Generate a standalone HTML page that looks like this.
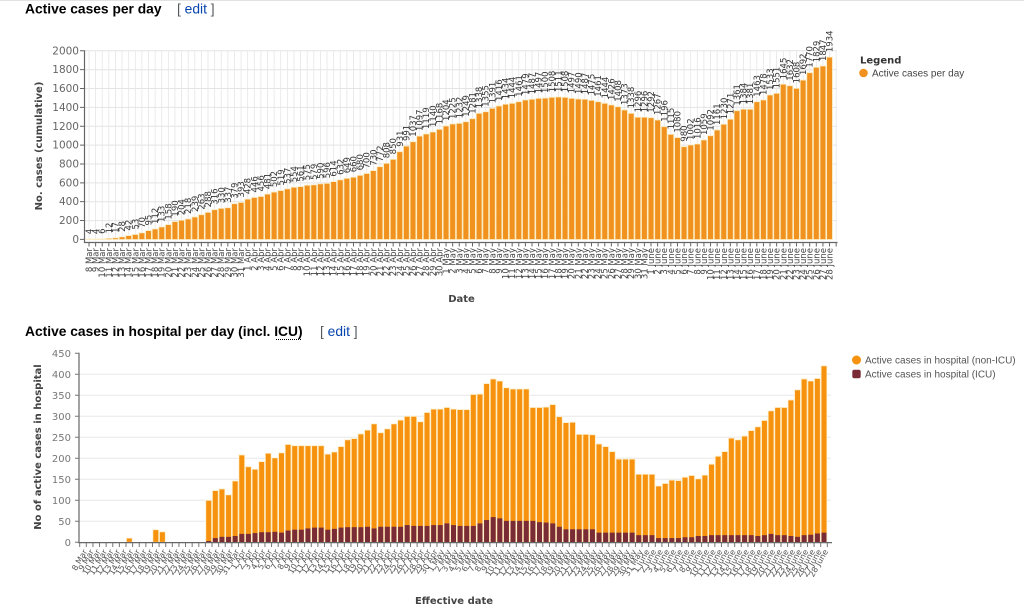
<!DOCTYPE html>
<html><head><meta charset="utf-8">
<style>
html,body{margin:0;padding:0;background:#fff;width:1024px;height:613px;overflow:hidden}
svg{display:block;font-family:"DejaVu Sans","Liberation Sans",sans-serif}
.b rect{vector-effect:non-scaling-stroke}
.t{font-family:"Liberation Sans",Arial,sans-serif}
</style></head><body>
<svg width="1024" height="613" viewBox="0 0 1024 613" xmlns="http://www.w3.org/2000/svg">
<line x1="0" y1="0.5" x2="1024" y2="0.5" stroke="#e2e2e2"/>
<!-- Titles -->
<text class="t" x="25" y="13.5" font-size="13.8" font-weight="bold" fill="#000">Active cases per day</text>
<text class="t" x="177" y="13.5" font-size="13.8"><tspan fill="#54595d">[ </tspan><tspan fill="#0645ad">edit</tspan><tspan fill="#54595d"> ]</tspan></text>
<text class="t" x="25" y="336" font-size="13.8" font-weight="bold" fill="#000">Active cases in hospital per day (incl. ICU)</text>
<line x1="276" y1="339.5" x2="302" y2="339.5" stroke="#000" stroke-dasharray="1 1"/>
<text class="t" x="320" y="336" font-size="13.8"><tspan fill="#54595d">[ </tspan><tspan fill="#0645ad">edit</tspan><tspan fill="#54595d"> ]</tspan></text>

<!-- ===== TOP CHART ===== -->
<g stroke="#e4e4e4" stroke-width="1">
<line x1="84" y1="220.6" x2="837" y2="220.6"/><line x1="84" y1="201.7" x2="837" y2="201.7"/><line x1="84" y1="182.9" x2="837" y2="182.9"/><line x1="84" y1="164" x2="837" y2="164"/><line x1="84" y1="145.1" x2="837" y2="145.1"/><line x1="84" y1="126.3" x2="837" y2="126.3"/><line x1="84" y1="107.4" x2="837" y2="107.4"/><line x1="84" y1="88.5" x2="837" y2="88.5"/><line x1="84" y1="69.7" x2="837" y2="69.7"/><line x1="84" y1="50.8" x2="837" y2="50.8"/>
</g>
<line x1="88.6" y1="145.65" x2="837" y2="145.65" stroke="#e6e6e6" stroke-width="189.7" stroke-dasharray="0.8 5.812"/>

<g class="b" transform="translate(89,239.5) scale(6.612,-0.0943) translate(-.439,0)" fill="#f0921d" stroke="#fbebc0" stroke-width=".8">
<rect x="0" width=".877" height="4"/><rect x="1" width=".877" height="4"/><rect x="2" width=".877" height="6"/><rect x="3" width=".877" height="12"/><rect x="4" width=".877" height="17"/><rect x="5" width=".877" height="28"/><rect x="6" width=".877" height="42"/><rect x="7" width=".877" height="53"/><rect x="8" width=".877" height="70"/><rect x="9" width=".877" height="95"/>
<rect x="10" width=".877" height="112"/><rect x="11" width=".877" height="133"/><rect x="12" width=".877" height="158"/><rect x="13" width=".877" height="190"/><rect x="14" width=".877" height="204"/><rect x="15" width=".877" height="218"/><rect x="16" width=".877" height="239"/><rect x="17" width=".877" height="263"/><rect x="18" width=".877" height="288"/><rect x="19" width=".877" height="316"/>
<rect x="20" width=".877" height="330"/><rect x="21" width=".877" height="337"/><rect x="22" width=".877" height="379"/><rect x="23" width=".877" height="393"/><rect x="24" width=".877" height="428"/><rect x="25" width=".877" height="446"/><rect x="26" width=".877" height="456"/><rect x="27" width=".877" height="481"/><rect x="28" width=".877" height="502"/><rect x="29" width=".877" height="519"/>
<rect x="30" width=".877" height="537"/><rect x="31" width=".877" height="554"/><rect x="32" width=".877" height="561"/><rect x="33" width=".877" height="575"/><rect x="34" width=".877" height="579"/><rect x="35" width=".877" height="590"/><rect x="36" width=".877" height="596"/><rect x="37" width=".877" height="614"/><rect x="38" width=".877" height="632"/><rect x="39" width=".877" height="649"/>
<rect x="40" width=".877" height="660"/><rect x="41" width=".877" height="680"/><rect x="42" width=".877" height="700"/><rect x="43" width=".877" height="730"/><rect x="44" width=".877" height="772"/><rect x="45" width=".877" height="808"/><rect x="46" width=".877" height="850"/><rect x="47" width=".877" height="931"/><rect x="48" width=".877" height="991"/><rect x="49" width=".877" height="1037"/>
<rect x="50" width=".877" height="1097"/><rect x="51" width=".877" height="1119"/><rect x="52" width=".877" height="1140"/><rect x="53" width=".877" height="1168"/><rect x="54" width=".877" height="1204"/><rect x="55" width=".877" height="1225"/><rect x="56" width=".877" height="1232"/><rect x="57" width=".877" height="1249"/><rect x="58" width=".877" height="1281"/><rect x="59" width=".877" height="1338"/>
<rect x="60" width=".877" height="1355"/><rect x="61" width=".877" height="1391"/><rect x="62" width=".877" height="1416"/><rect x="63" width=".877" height="1434"/><rect x="64" width=".877" height="1444"/><rect x="65" width=".877" height="1461"/><rect x="66" width=".877" height="1479"/><rect x="67" width=".877" height="1487"/><rect x="68" width=".877" height="1497"/><rect x="69" width=".877" height="1500"/>
<rect x="70" width=".877" height="1508"/><rect x="71" width=".877" height="1511"/><rect x="72" width=".877" height="1508"/><rect x="73" width=".877" height="1497"/><rect x="74" width=".877" height="1490"/><rect x="75" width=".877" height="1487"/><rect x="76" width=".877" height="1475"/><rect x="77" width=".877" height="1461"/><rect x="78" width=".877" height="1444"/><rect x="79" width=".877" height="1426"/>
<rect x="80" width=".877" height="1408"/><rect x="81" width=".877" height="1373"/><rect x="82" width=".877" height="1338"/><rect x="83" width=".877" height="1296"/><rect x="84" width=".877" height="1296"/><rect x="85" width=".877" height="1292"/><rect x="86" width=".877" height="1267"/><rect x="87" width=".877" height="1196"/><rect x="88" width=".877" height="1115"/><rect x="89" width=".877" height="1080"/>
<rect x="90" width=".877" height="984"/><rect x="91" width=".877" height="1002"/><rect x="92" width=".877" height="1013"/><rect x="93" width=".877" height="1055"/><rect x="94" width=".877" height="1101"/><rect x="95" width=".877" height="1161"/><rect x="96" width=".877" height="1222"/><rect x="97" width=".877" height="1275"/><rect x="98" width=".877" height="1366"/><rect x="99" width=".877" height="1381"/>
<rect x="100" width=".877" height="1381"/><rect x="101" width=".877" height="1461"/><rect x="102" width=".877" height="1479"/><rect x="103" width=".877" height="1532"/><rect x="104" width=".877" height="1550"/><rect x="105" width=".877" height="1646"/><rect x="106" width=".877" height="1631"/><rect x="107" width=".877" height="1603"/><rect x="108" width=".877" height="1691"/><rect x="109" width=".877" height="1769"/>
<rect x="110" width=".877" height="1826"/><rect x="111" width=".877" height="1840"/><rect x="112" width=".877" height="1934"/>
</g>

<!-- value labels -->
<g transform="translate(89,239.5) scale(6.612,-0.0943)" font-size="8.5" fill="#333">
<text transform="translate(0,4)scale(.15124,-10.6045)rotate(-90)" x="5" y="3">4</text>
<text transform="translate(1,4)scale(.15124,-10.6045)rotate(-90)" x="5" y="3">4</text>
<text transform="translate(2,6)scale(.15124,-10.6045)rotate(-90)" x="5" y="3">6</text>
<text transform="translate(3,12)scale(.15124,-10.6045)rotate(-90)" x="5" y="3">12</text>
<text transform="translate(4,17)scale(.15124,-10.6045)rotate(-90)" x="5" y="3">17</text>
<text transform="translate(5,28)scale(.15124,-10.6045)rotate(-90)" x="5" y="3">28</text>
<text transform="translate(6,42)scale(.15124,-10.6045)rotate(-90)" x="5" y="3">42</text>
<text transform="translate(7,53)scale(.15124,-10.6045)rotate(-90)" x="5" y="3">53</text>
<text transform="translate(8,70)scale(.15124,-10.6045)rotate(-90)" x="5" y="3">70</text>
<text transform="translate(9,95)scale(.15124,-10.6045)rotate(-90)" x="5" y="3">95</text>
<text transform="translate(10,112)scale(.15124,-10.6045)rotate(-90)" x="5" y="3">112</text>
<text transform="translate(11,133)scale(.15124,-10.6045)rotate(-90)" x="5" y="3">133</text>
<text transform="translate(12,158)scale(.15124,-10.6045)rotate(-90)" x="5" y="3">158</text>
<text transform="translate(13,190)scale(.15124,-10.6045)rotate(-90)" x="5" y="3">190</text>
<text transform="translate(14,204)scale(.15124,-10.6045)rotate(-90)" x="5" y="3">204</text>
<text transform="translate(15,218)scale(.15124,-10.6045)rotate(-90)" x="5" y="3">218</text>
<text transform="translate(16,239)scale(.15124,-10.6045)rotate(-90)" x="5" y="3">239</text>
<text transform="translate(17,263)scale(.15124,-10.6045)rotate(-90)" x="5" y="3">263</text>
<text transform="translate(18,288)scale(.15124,-10.6045)rotate(-90)" x="5" y="3">288</text>
<text transform="translate(19,316)scale(.15124,-10.6045)rotate(-90)" x="5" y="3">316</text>
<text transform="translate(20,330)scale(.15124,-10.6045)rotate(-90)" x="5" y="3">330</text>
<text transform="translate(21,337)scale(.15124,-10.6045)rotate(-90)" x="5" y="3">337</text>
<text transform="translate(22,379)scale(.15124,-10.6045)rotate(-90)" x="5" y="3">379</text>
<text transform="translate(23,393)scale(.15124,-10.6045)rotate(-90)" x="5" y="3">393</text>
<text transform="translate(24,428)scale(.15124,-10.6045)rotate(-90)" x="5" y="3">428</text>
<text transform="translate(25,446)scale(.15124,-10.6045)rotate(-90)" x="5" y="3">446</text>
<text transform="translate(26,456)scale(.15124,-10.6045)rotate(-90)" x="5" y="3">456</text>
<text transform="translate(27,481)scale(.15124,-10.6045)rotate(-90)" x="5" y="3">481</text>
<text transform="translate(28,502)scale(.15124,-10.6045)rotate(-90)" x="5" y="3">502</text>
<text transform="translate(29,519)scale(.15124,-10.6045)rotate(-90)" x="5" y="3">519</text>
<text transform="translate(30,537)scale(.15124,-10.6045)rotate(-90)" x="5" y="3">537</text>
<text transform="translate(31,554)scale(.15124,-10.6045)rotate(-90)" x="5" y="3">554</text>
<text transform="translate(32,561)scale(.15124,-10.6045)rotate(-90)" x="5" y="3">561</text>
<text transform="translate(33,575)scale(.15124,-10.6045)rotate(-90)" x="5" y="3">575</text>
<text transform="translate(34,579)scale(.15124,-10.6045)rotate(-90)" x="5" y="3">579</text>
<text transform="translate(35,590)scale(.15124,-10.6045)rotate(-90)" x="5" y="3">590</text>
<text transform="translate(36,596)scale(.15124,-10.6045)rotate(-90)" x="5" y="3">596</text>
<text transform="translate(37,614)scale(.15124,-10.6045)rotate(-90)" x="5" y="3">614</text>
<text transform="translate(38,632)scale(.15124,-10.6045)rotate(-90)" x="5" y="3">632</text>
<text transform="translate(39,649)scale(.15124,-10.6045)rotate(-90)" x="5" y="3">649</text>
<text transform="translate(40,660)scale(.15124,-10.6045)rotate(-90)" x="5" y="3">660</text>
<text transform="translate(41,680)scale(.15124,-10.6045)rotate(-90)" x="5" y="3">680</text>
<text transform="translate(42,700)scale(.15124,-10.6045)rotate(-90)" x="5" y="3">700</text>
<text transform="translate(43,730)scale(.15124,-10.6045)rotate(-90)" x="5" y="3">730</text>
<text transform="translate(44,772)scale(.15124,-10.6045)rotate(-90)" x="5" y="3">772</text>
<text transform="translate(45,808)scale(.15124,-10.6045)rotate(-90)" x="5" y="3">808</text>
<text transform="translate(46,850)scale(.15124,-10.6045)rotate(-90)" x="5" y="3">850</text>
<text transform="translate(47,931)scale(.15124,-10.6045)rotate(-90)" x="5" y="3">931</text>
<text transform="translate(48,991)scale(.15124,-10.6045)rotate(-90)" x="5" y="3">991</text>
<text transform="translate(49,1037)scale(.15124,-10.6045)rotate(-90)" x="5" y="3">1037</text>
<text transform="translate(50,1097)scale(.15124,-10.6045)rotate(-90)" x="5" y="3">1097</text>
<text transform="translate(51,1119)scale(.15124,-10.6045)rotate(-90)" x="5" y="3">1119</text>
<text transform="translate(52,1140)scale(.15124,-10.6045)rotate(-90)" x="5" y="3">1140</text>
<text transform="translate(53,1168)scale(.15124,-10.6045)rotate(-90)" x="5" y="3">1168</text>
<text transform="translate(54,1204)scale(.15124,-10.6045)rotate(-90)" x="5" y="3">1204</text>
<text transform="translate(55,1225)scale(.15124,-10.6045)rotate(-90)" x="5" y="3">1225</text>
<text transform="translate(56,1232)scale(.15124,-10.6045)rotate(-90)" x="5" y="3">1232</text>
<text transform="translate(57,1249)scale(.15124,-10.6045)rotate(-90)" x="5" y="3">1249</text>
<text transform="translate(58,1281)scale(.15124,-10.6045)rotate(-90)" x="5" y="3">1281</text>
<text transform="translate(59,1338)scale(.15124,-10.6045)rotate(-90)" x="5" y="3">1338</text>
<text transform="translate(60,1355)scale(.15124,-10.6045)rotate(-90)" x="5" y="3">1355</text>
<text transform="translate(61,1391)scale(.15124,-10.6045)rotate(-90)" x="5" y="3">1391</text>
<text transform="translate(62,1416)scale(.15124,-10.6045)rotate(-90)" x="5" y="3">1416</text>
<text transform="translate(63,1434)scale(.15124,-10.6045)rotate(-90)" x="5" y="3">1434</text>
<text transform="translate(64,1444)scale(.15124,-10.6045)rotate(-90)" x="5" y="3">1444</text>
<text transform="translate(65,1461)scale(.15124,-10.6045)rotate(-90)" x="5" y="3">1461</text>
<text transform="translate(66,1479)scale(.15124,-10.6045)rotate(-90)" x="5" y="3">1479</text>
<text transform="translate(67,1487)scale(.15124,-10.6045)rotate(-90)" x="5" y="3">1487</text>
<text transform="translate(68,1497)scale(.15124,-10.6045)rotate(-90)" x="5" y="3">1497</text>
<text transform="translate(69,1500)scale(.15124,-10.6045)rotate(-90)" x="5" y="3">1500</text>
<text transform="translate(70,1508)scale(.15124,-10.6045)rotate(-90)" x="5" y="3">1508</text>
<text transform="translate(71,1511)scale(.15124,-10.6045)rotate(-90)" x="5" y="3">1511</text>
<text transform="translate(72,1508)scale(.15124,-10.6045)rotate(-90)" x="5" y="3">1508</text>
<text transform="translate(73,1497)scale(.15124,-10.6045)rotate(-90)" x="5" y="3">1497</text>
<text transform="translate(74,1490)scale(.15124,-10.6045)rotate(-90)" x="5" y="3">1490</text>
<text transform="translate(75,1487)scale(.15124,-10.6045)rotate(-90)" x="5" y="3">1487</text>
<text transform="translate(76,1475)scale(.15124,-10.6045)rotate(-90)" x="5" y="3">1475</text>
<text transform="translate(77,1461)scale(.15124,-10.6045)rotate(-90)" x="5" y="3">1461</text>
<text transform="translate(78,1444)scale(.15124,-10.6045)rotate(-90)" x="5" y="3">1444</text>
<text transform="translate(79,1426)scale(.15124,-10.6045)rotate(-90)" x="5" y="3">1426</text>
<text transform="translate(80,1408)scale(.15124,-10.6045)rotate(-90)" x="5" y="3">1408</text>
<text transform="translate(81,1373)scale(.15124,-10.6045)rotate(-90)" x="5" y="3">1373</text>
<text transform="translate(82,1338)scale(.15124,-10.6045)rotate(-90)" x="5" y="3">1338</text>
<text transform="translate(83,1296)scale(.15124,-10.6045)rotate(-90)" x="5" y="3">1296</text>
<text transform="translate(84,1296)scale(.15124,-10.6045)rotate(-90)" x="5" y="3">1296</text>
<text transform="translate(85,1292)scale(.15124,-10.6045)rotate(-90)" x="5" y="3">1292</text>
<text transform="translate(86,1267)scale(.15124,-10.6045)rotate(-90)" x="5" y="3">1267</text>
<text transform="translate(87,1196)scale(.15124,-10.6045)rotate(-90)" x="5" y="3">1196</text>
<text transform="translate(88,1115)scale(.15124,-10.6045)rotate(-90)" x="5" y="3">1115</text>
<text transform="translate(89,1080)scale(.15124,-10.6045)rotate(-90)" x="5" y="3">1080</text>
<text transform="translate(90,984)scale(.15124,-10.6045)rotate(-90)" x="5" y="3">980</text>
<text transform="translate(91,1002)scale(.15124,-10.6045)rotate(-90)" x="5" y="3">1002</text>
<text transform="translate(92,1013)scale(.15124,-10.6045)rotate(-90)" x="5" y="3">1016</text>
<text transform="translate(93,1055)scale(.15124,-10.6045)rotate(-90)" x="5" y="3">1059</text>
<text transform="translate(94,1101)scale(.15124,-10.6045)rotate(-90)" x="5" y="3">1092</text>
<text transform="translate(95,1161)scale(.15124,-10.6045)rotate(-90)" x="5" y="3">1161</text>
<text transform="translate(96,1222)scale(.15124,-10.6045)rotate(-90)" x="5" y="3">1230</text>
<text transform="translate(97,1275)scale(.15124,-10.6045)rotate(-90)" x="5" y="3">1271</text>
<text transform="translate(98,1366)scale(.15124,-10.6045)rotate(-90)" x="5" y="3">1361</text>
<text transform="translate(99,1381)scale(.15124,-10.6045)rotate(-90)" x="5" y="3">1384</text>
<text transform="translate(100,1381)scale(.15124,-10.6045)rotate(-90)" x="5" y="3">1381</text>
<text transform="translate(101,1461)scale(.15124,-10.6045)rotate(-90)" x="5" y="3">1463</text>
<text transform="translate(102,1479)scale(.15124,-10.6045)rotate(-90)" x="5" y="3">1478</text>
<text transform="translate(103,1532)scale(.15124,-10.6045)rotate(-90)" x="5" y="3">1533</text>
<text transform="translate(104,1550)scale(.15124,-10.6045)rotate(-90)" x="5" y="3">1551</text>
<text transform="translate(105,1646)scale(.15124,-10.6045)rotate(-90)" x="5" y="3">1645</text>
<text transform="translate(106,1631)scale(.15124,-10.6045)rotate(-90)" x="5" y="3">1632</text>
<text transform="translate(107,1603)scale(.15124,-10.6045)rotate(-90)" x="5" y="3">1608</text>
<text transform="translate(108,1691)scale(.15124,-10.6045)rotate(-90)" x="5" y="3">1692</text>
<text transform="translate(109,1769)scale(.15124,-10.6045)rotate(-90)" x="5" y="3">1770</text>
<text transform="translate(110,1826)scale(.15124,-10.6045)rotate(-90)" x="5" y="3">1829</text>
<text transform="translate(111,1840)scale(.15124,-10.6045)rotate(-90)" x="5" y="3">1847</text>
<text transform="translate(112,1934)scale(.15124,-10.6045)rotate(-90)" x="5" y="3">1934</text>
</g>

<!-- top axes -->
<line x1="84.5" y1="50.3" x2="84.5" y2="243" stroke="#666" stroke-width="1.2"/>
<line x1="84" y1="242.5" x2="837.5" y2="242.5" stroke="#666" stroke-width="1.2"/>
<line x1="88.5" y1="244.5" x2="837.5" y2="244.5" stroke="#666" stroke-width="4" stroke-dasharray="1 5.612"/>
<line x1="82" y1="50.3" x2="82" y2="241" stroke="#666" stroke-width="4" stroke-dasharray="1 17.86"/>
<g font-size="10.5" fill="#666" text-anchor="end">
<text x="79" y="243">0</text><text x="79" y="224.1">200</text><text x="79" y="205.2">400</text><text x="79" y="186.4">600</text><text x="79" y="167.5">800</text><text x="79" y="148.6">1000</text><text x="79" y="129.8">1200</text><text x="79" y="110.9">1400</text><text x="79" y="92">1600</text><text x="79" y="73.2">1800</text><text x="79" y="54.3">2000</text>
</g>
<text transform="translate(42,146) rotate(-90)" text-anchor="middle" font-size="10" font-weight="bold" fill="#444">No. cases (cumulative)</text>
<text x="461.5" y="302" text-anchor="middle" font-size="10" font-weight="bold" fill="#444">Date</text>

<!-- top x labels -->
<g transform="translate(0,248) rotate(-90)" text-anchor="end" font-size="8.5" fill="#444">
<text y="92">8 Mar</text><text y="98.6">9 Mar</text><text y="105.2">10 Mar</text><text y="111.8">11 Mar</text><text y="118.4">12 Mar</text><text y="125.1">13 Mar</text><text y="131.7">14 Mar</text><text y="138.3">15 Mar</text><text y="144.9">16 Mar</text><text y="151.5">17 Mar</text>
<text y="158.1">18 Mar</text><text y="164.7">19 Mar</text><text y="171.3">20 Mar</text><text y="178">21 Mar</text><text y="184.6">22 Mar</text><text y="191.2">23 Mar</text><text y="197.8">24 Mar</text><text y="204.4">25 Mar</text><text y="211">26 Mar</text><text y="217.6">27 Mar</text>
<text y="224.2">28 Mar</text><text y="230.9">29 Mar</text><text y="237.5">30 Mar</text><text y="244.1">31 Mar</text><text y="250.7">1 Apr</text><text y="257.3">2 Apr</text><text y="263.9">3 Apr</text><text y="270.5">4 Apr</text><text y="277.1">5 Apr</text><text y="283.7">6 Apr</text>
<text y="290.4">7 Apr</text><text y="297">8 Apr</text><text y="303.6">9 Apr</text><text y="310.2">10 Apr</text><text y="316.8">11 Apr</text><text y="323.4">12 Apr</text><text y="330">13 Apr</text><text y="336.6">14 Apr</text><text y="343.3">15 Apr</text><text y="349.9">16 Apr</text>
<text y="356.5">17 Apr</text><text y="363.1">18 Apr</text><text y="369.7">19 Apr</text><text y="376.3">20 Apr</text><text y="382.9">21 Apr</text><text y="389.5">22 Apr</text><text y="396.2">23 Apr</text><text y="402.8">24 Apr</text><text y="409.4">25 Apr</text><text y="416">26 Apr</text>
<text y="422.6">27 Apr</text><text y="429.2">28 Apr</text><text y="435.8">29 Apr</text><text y="442.4">30 Apr</text><text y="449">1 May</text><text y="455.7">2 May</text><text y="462.3">3 May</text><text y="468.9">4 May</text><text y="475.5">5 May</text><text y="482.1">6 May</text>
<text y="488.7">7 May</text><text y="495.3">8 May</text><text y="501.9">9 May</text><text y="508.6">10 May</text><text y="515.2">11 May</text><text y="521.8">12 May</text><text y="528.4">13 May</text><text y="535">14 May</text><text y="541.6">15 May</text><text y="548.2">16 May</text>
<text y="554.8">17 May</text><text y="561.5">18 May</text><text y="568.1">19 May</text><text y="574.7">20 May</text><text y="581.3">21 May</text><text y="587.9">22 May</text><text y="594.5">23 May</text><text y="601.1">24 May</text><text y="607.7">25 May</text><text y="614.3">26 May</text>
<text y="621">27 May</text><text y="627.6">28 May</text><text y="634.2">29 May</text><text y="640.8">30 May</text><text y="647.4">31 May</text><text y="654">1 June</text><text y="660.6">2 June</text><text y="667.2">3 June</text><text y="673.9">4 June</text><text y="680.5">5 June</text>
<text y="687.1">6 June</text><text y="693.7">7 June</text><text y="700.3">8 June</text><text y="706.9">9 June</text><text y="713.5">10 June</text><text y="720.1">11 June</text><text y="726.8">12 June</text><text y="733.4">13 June</text><text y="740">14 June</text><text y="746.6">15 June</text>
<text y="753.2">16 June</text><text y="759.8">17 June</text><text y="766.4">18 June</text><text y="773">19 June</text><text y="779.6">20 June</text><text y="786.3">21 June</text><text y="792.9">22 June</text><text y="799.5">23 June</text><text y="806.1">24 June</text><text y="812.7">25 June</text>
<text y="819.3">26 June</text><text y="825.9">27 June</text><text y="832.5">28 June</text>
</g>

<!-- top legend -->
<text x="860" y="63.5" font-size="10" font-weight="bold" fill="#333">Legend</text>
<circle cx="863.5" cy="73" r="4.3" fill="#f0921d"/>
<text class="t" x="872" y="76.5" font-size="10" fill="#444">Active cases per day</text>

<!-- ===== BOTTOM CHART ===== -->
<g stroke="#e8e8e8" stroke-width="1">
<line x1="79" y1="521.3" x2="831" y2="521.3"/><line x1="79" y1="500.3" x2="831" y2="500.3"/><line x1="79" y1="479.3" x2="831" y2="479.3"/><line x1="79" y1="458.3" x2="831" y2="458.3"/><line x1="79" y1="437.3" x2="831" y2="437.3"/><line x1="79" y1="416.3" x2="831" y2="416.3"/><line x1="79" y1="395.3" x2="831" y2="395.3"/><line x1="79" y1="374.3" x2="831" y2="374.3"/>
</g>

<g class="b" transform="translate(83,542.3) scale(6.616,-0.42) translate(-.438,0)" fill="#f7920f" stroke="#fdeec8" stroke-width=".8">
<rect x="7" width=".877" height="10"/><rect x="11" width=".877" height="30"/><rect x="12" width=".877" height="25"/>
<rect x="19" width=".877" height="100"/><rect x="20" width=".877" height="123"/><rect x="21" width=".877" height="127"/><rect x="22" width=".877" height="113"/><rect x="23" width=".877" height="146"/><rect x="24" width=".877" height="208"/><rect x="25" width=".877" height="180"/><rect x="26" width=".877" height="174"/><rect x="27" width=".877" height="192"/><rect x="28" width=".877" height="212"/><rect x="29" width=".877" height="201"/>
<rect x="30" width=".877" height="213"/><rect x="31" width=".877" height="233"/><rect x="32" width=".877" height="230"/><rect x="33" width=".877" height="230"/><rect x="34" width=".877" height="230"/><rect x="35" width=".877" height="230"/><rect x="36" width=".877" height="230"/><rect x="37" width=".877" height="210"/><rect x="38" width=".877" height="215"/><rect x="39" width=".877" height="228"/>
<rect x="40" width=".877" height="244"/><rect x="41" width=".877" height="247"/><rect x="42" width=".877" height="258"/><rect x="43" width=".877" height="267"/><rect x="44" width=".877" height="282"/><rect x="45" width=".877" height="261"/><rect x="46" width=".877" height="270"/><rect x="47" width=".877" height="282"/><rect x="48" width=".877" height="291"/><rect x="49" width=".877" height="300"/>
<rect x="50" width=".877" height="300"/><rect x="51" width=".877" height="287"/><rect x="52" width=".877" height="309"/><rect x="53" width=".877" height="317"/><rect x="54" width=".877" height="317"/><rect x="55" width=".877" height="321"/><rect x="56" width=".877" height="317"/><rect x="57" width=".877" height="316"/><rect x="58" width=".877" height="316"/><rect x="59" width=".877" height="352"/>
<rect x="60" width=".877" height="353"/><rect x="61" width=".877" height="378"/><rect x="62" width=".877" height="389"/><rect x="63" width=".877" height="384"/><rect x="64" width=".877" height="368"/><rect x="65" width=".877" height="365"/><rect x="66" width=".877" height="365"/><rect x="67" width=".877" height="365"/><rect x="68" width=".877" height="321"/><rect x="69" width=".877" height="321"/>
<rect x="70" width=".877" height="322"/><rect x="71" width=".877" height="328"/><rect x="72" width=".877" height="299"/><rect x="73" width=".877" height="285"/><rect x="74" width=".877" height="286"/><rect x="75" width=".877" height="257"/><rect x="76" width=".877" height="257"/><rect x="77" width=".877" height="256"/><rect x="78" width=".877" height="234"/><rect x="79" width=".877" height="228"/>
<rect x="80" width=".877" height="216"/><rect x="81" width=".877" height="198"/><rect x="82" width=".877" height="198"/><rect x="83" width=".877" height="198"/><rect x="84" width=".877" height="162"/><rect x="85" width=".877" height="162"/><rect x="86" width=".877" height="162"/><rect x="87" width=".877" height="134"/><rect x="88" width=".877" height="140"/><rect x="89" width=".877" height="148"/>
<rect x="90" width=".877" height="147"/><rect x="91" width=".877" height="155"/><rect x="92" width=".877" height="159"/><rect x="93" width=".877" height="151"/><rect x="94" width=".877" height="160"/><rect x="95" width=".877" height="186"/><rect x="96" width=".877" height="205"/><rect x="97" width=".877" height="216"/><rect x="98" width=".877" height="248"/><rect x="99" width=".877" height="244"/>
<rect x="100" width=".877" height="253"/><rect x="101" width=".877" height="266"/><rect x="102" width=".877" height="275"/><rect x="103" width=".877" height="290"/><rect x="104" width=".877" height="313"/><rect x="105" width=".877" height="321"/><rect x="106" width=".877" height="321"/><rect x="107" width=".877" height="339"/><rect x="108" width=".877" height="363"/><rect x="109" width=".877" height="389"/>
<rect x="110" width=".877" height="384"/><rect x="111" width=".877" height="390"/><rect x="112" width=".877" height="420"/>
</g>
<g transform="translate(83,542.3) scale(6.616,-0.42) translate(-.378,0)" fill="#7a2c36">
<rect x="19" width=".756" height="3"/><rect x="20" width=".756" height="10"/><rect x="21" width=".756" height="13"/><rect x="22" width=".756" height="13"/><rect x="23" width=".756" height="15"/><rect x="24" width=".756" height="20"/><rect x="25" width=".756" height="20"/><rect x="26" width=".756" height="22"/><rect x="27" width=".756" height="24"/><rect x="28" width=".756" height="24"/><rect x="29" width=".756" height="25"/>
<rect x="30" width=".756" height="23"/><rect x="31" width=".756" height="28"/><rect x="32" width=".756" height="30"/><rect x="33" width=".756" height="30"/><rect x="34" width=".756" height="33"/><rect x="35" width=".756" height="35"/><rect x="36" width=".756" height="35"/><rect x="37" width=".756" height="30"/><rect x="38" width=".756" height="32"/><rect x="39" width=".756" height="35"/>
<rect x="40" width=".756" height="36"/><rect x="41" width=".756" height="36"/><rect x="42" width=".756" height="36"/><rect x="43" width=".756" height="37"/><rect x="44" width=".756" height="33"/><rect x="45" width=".756" height="37"/><rect x="46" width=".756" height="37"/><rect x="47" width=".756" height="37"/><rect x="48" width=".756" height="37"/><rect x="49" width=".756" height="41"/>
<rect x="50" width=".756" height="39"/><rect x="51" width=".756" height="39"/><rect x="52" width=".756" height="39"/><rect x="53" width=".756" height="41"/><rect x="54" width=".756" height="41"/><rect x="55" width=".756" height="45"/><rect x="56" width=".756" height="41"/><rect x="57" width=".756" height="39"/><rect x="58" width=".756" height="39"/><rect x="59" width=".756" height="39"/>
<rect x="60" width=".756" height="45"/><rect x="61" width=".756" height="53"/><rect x="62" width=".756" height="60"/><rect x="63" width=".756" height="57"/><rect x="64" width=".756" height="51"/><rect x="65" width=".756" height="51"/><rect x="66" width=".756" height="51"/><rect x="67" width=".756" height="51"/><rect x="68" width=".756" height="51"/><rect x="69" width=".756" height="48"/>
<rect x="70" width=".756" height="47"/><rect x="71" width=".756" height="45"/><rect x="72" width=".756" height="37"/><rect x="73" width=".756" height="31"/><rect x="74" width=".756" height="31"/><rect x="75" width=".756" height="31"/><rect x="76" width=".756" height="31"/><rect x="77" width=".756" height="31"/><rect x="78" width=".756" height="23"/><rect x="79" width=".756" height="23"/>
<rect x="80" width=".756" height="23"/><rect x="81" width=".756" height="23"/><rect x="82" width=".756" height="23"/><rect x="83" width=".756" height="23"/><rect x="84" width=".756" height="17"/><rect x="85" width=".756" height="17"/><rect x="86" width=".756" height="17"/><rect x="87" width=".756" height="10"/><rect x="88" width=".756" height="10"/><rect x="89" width=".756" height="10"/>
<rect x="90" width=".756" height="10"/><rect x="91" width=".756" height="12"/><rect x="92" width=".756" height="12"/><rect x="93" width=".756" height="15"/><rect x="94" width=".756" height="15"/><rect x="95" width=".756" height="17"/><rect x="96" width=".756" height="17"/><rect x="97" width=".756" height="17"/><rect x="98" width=".756" height="17"/><rect x="99" width=".756" height="17"/>
<rect x="100" width=".756" height="17"/><rect x="101" width=".756" height="17"/><rect x="102" width=".756" height="15"/><rect x="103" width=".756" height="17"/><rect x="104" width=".756" height="20"/><rect x="105" width=".756" height="17"/><rect x="106" width=".756" height="17"/><rect x="107" width=".756" height="15"/><rect x="108" width=".756" height="13"/><rect x="109" width=".756" height="17"/>
<rect x="110" width=".756" height="18"/><rect x="111" width=".756" height="21"/><rect x="112" width=".756" height="23"/>
</g>

<!-- bottom axes -->
<line x1="79" y1="352.8" x2="79" y2="543" stroke="#666" stroke-width="1.2"/>
<line x1="78" y1="542.6" x2="832" y2="542.6" stroke="#666" stroke-width="1.2"/>
<line x1="79.2" y1="545" x2="832" y2="545" stroke="#777" stroke-width="4" stroke-dasharray="1 5.616"/>
<line x1="77" y1="352.8" x2="77" y2="543" stroke="#777" stroke-width="4" stroke-dasharray="1 20"/>
<g font-size="10" fill="#777" text-anchor="end">
<text x="71" y="545.8">0</text><text x="71" y="524.8">50</text><text x="71" y="503.8">100</text><text x="71" y="482.8">150</text><text x="71" y="461.8">200</text><text x="71" y="440.8">250</text><text x="71" y="419.8">300</text><text x="71" y="398.8">350</text><text x="71" y="377.8">400</text><text x="71" y="356.8">450</text>
</g>
<text transform="translate(41,447) rotate(-90)" text-anchor="middle" font-size="10" font-weight="bold" fill="#444">No of active cases in hospital</text>
<text x="454" y="604" text-anchor="middle" font-size="10" font-weight="bold" fill="#444">Effective date</text>

<!-- bottom x labels -->
<g text-anchor="end" font-size="8" fill="#555">
<text transform="translate(85,550)rotate(-60)" y="3">8 Mar</text><text transform="translate(91.6,550)rotate(-60)" y="3">9 Mar</text><text transform="translate(98.2,550)rotate(-60)" y="3">10 Mar</text><text transform="translate(104.8,550)rotate(-60)" y="3">11 Mar</text><text transform="translate(111.4,550)rotate(-60)" y="3">12 Mar</text><text transform="translate(118.1,550)rotate(-60)" y="3">13 Mar</text><text transform="translate(124.7,550)rotate(-60)" y="3">14 Mar</text><text transform="translate(131.3,550)rotate(-60)" y="3">15 Mar</text><text transform="translate(137.9,550)rotate(-60)" y="3">16 Mar</text><text transform="translate(144.5,550)rotate(-60)" y="3">17 Mar</text>
<text transform="translate(151.1,550)rotate(-60)" y="3">18 Mar</text><text transform="translate(157.7,550)rotate(-60)" y="3">19 Mar</text><text transform="translate(164.3,550)rotate(-60)" y="3">20 Mar</text><text transform="translate(171,550)rotate(-60)" y="3">21 Mar</text><text transform="translate(177.6,550)rotate(-60)" y="3">22 Mar</text><text transform="translate(184.2,550)rotate(-60)" y="3">23 Mar</text><text transform="translate(190.8,550)rotate(-60)" y="3">24 Mar</text><text transform="translate(197.4,550)rotate(-60)" y="3">25 Mar</text><text transform="translate(204,550)rotate(-60)" y="3">26 Mar</text><text transform="translate(210.6,550)rotate(-60)" y="3">27 Mar</text>
<text transform="translate(217.2,550)rotate(-60)" y="3">28 Mar</text><text transform="translate(223.9,550)rotate(-60)" y="3">29 Mar</text><text transform="translate(230.5,550)rotate(-60)" y="3">30 Mar</text><text transform="translate(237.1,550)rotate(-60)" y="3">31 Mar</text><text transform="translate(243.7,550)rotate(-60)" y="3">1 Apr</text><text transform="translate(250.3,550)rotate(-60)" y="3">2 Apr</text><text transform="translate(256.9,550)rotate(-60)" y="3">3 Apr</text><text transform="translate(263.5,550)rotate(-60)" y="3">4 Apr</text><text transform="translate(270.1,550)rotate(-60)" y="3">5 Apr</text><text transform="translate(276.7,550)rotate(-60)" y="3">6 Apr</text>
<text transform="translate(283.4,550)rotate(-60)" y="3">7 Apr</text><text transform="translate(290,550)rotate(-60)" y="3">8 Apr</text><text transform="translate(296.6,550)rotate(-60)" y="3">9 Apr</text><text transform="translate(303.2,550)rotate(-60)" y="3">10 Apr</text><text transform="translate(309.8,550)rotate(-60)" y="3">11 Apr</text><text transform="translate(316.4,550)rotate(-60)" y="3">12 Apr</text><text transform="translate(323,550)rotate(-60)" y="3">13 Apr</text><text transform="translate(329.6,550)rotate(-60)" y="3">14 Apr</text><text transform="translate(336.3,550)rotate(-60)" y="3">15 Apr</text><text transform="translate(342.9,550)rotate(-60)" y="3">16 Apr</text>
<text transform="translate(349.5,550)rotate(-60)" y="3">17 Apr</text><text transform="translate(356.1,550)rotate(-60)" y="3">18 Apr</text><text transform="translate(362.7,550)rotate(-60)" y="3">19 Apr</text><text transform="translate(369.3,550)rotate(-60)" y="3">20 Apr</text><text transform="translate(375.9,550)rotate(-60)" y="3">21 Apr</text><text transform="translate(382.5,550)rotate(-60)" y="3">22 Apr</text><text transform="translate(389.2,550)rotate(-60)" y="3">23 Apr</text><text transform="translate(395.8,550)rotate(-60)" y="3">24 Apr</text><text transform="translate(402.4,550)rotate(-60)" y="3">25 Apr</text><text transform="translate(409,550)rotate(-60)" y="3">26 Apr</text>
<text transform="translate(415.6,550)rotate(-60)" y="3">27 Apr</text><text transform="translate(422.2,550)rotate(-60)" y="3">28 Apr</text><text transform="translate(428.8,550)rotate(-60)" y="3">29 Apr</text><text transform="translate(435.4,550)rotate(-60)" y="3">30 Apr</text><text transform="translate(442,550)rotate(-60)" y="3">1 May</text><text transform="translate(448.7,550)rotate(-60)" y="3">2 May</text><text transform="translate(455.6,550)rotate(-60)" y="3">3 May</text><text transform="translate(462.2,550)rotate(-60)" y="3">4 May</text><text transform="translate(468.8,550)rotate(-60)" y="3">5 May</text><text transform="translate(475.4,550)rotate(-60)" y="3">6 May</text>
<text transform="translate(482,550)rotate(-60)" y="3">7 May</text><text transform="translate(488.6,550)rotate(-60)" y="3">8 May</text><text transform="translate(495.2,550)rotate(-60)" y="3">9 May</text><text transform="translate(501.9,550)rotate(-60)" y="3">10 May</text><text transform="translate(508.5,550)rotate(-60)" y="3">11 May</text><text transform="translate(515.1,550)rotate(-60)" y="3">12 May</text><text transform="translate(521.7,550)rotate(-60)" y="3">13 May</text><text transform="translate(528.3,550)rotate(-60)" y="3">14 May</text><text transform="translate(534.9,550)rotate(-60)" y="3">15 May</text><text transform="translate(541.5,550)rotate(-60)" y="3">16 May</text>
<text transform="translate(548.1,550)rotate(-60)" y="3">17 May</text><text transform="translate(554.8,550)rotate(-60)" y="3">18 May</text><text transform="translate(561.4,550)rotate(-60)" y="3">19 May</text><text transform="translate(568,550)rotate(-60)" y="3">20 May</text><text transform="translate(574.6,550)rotate(-60)" y="3">21 May</text><text transform="translate(581.2,550)rotate(-60)" y="3">22 May</text><text transform="translate(587.8,550)rotate(-60)" y="3">23 May</text><text transform="translate(594.4,550)rotate(-60)" y="3">24 May</text><text transform="translate(601,550)rotate(-60)" y="3">25 May</text><text transform="translate(607.6,550)rotate(-60)" y="3">26 May</text>
<text transform="translate(614.3,550)rotate(-60)" y="3">27 May</text><text transform="translate(620.9,550)rotate(-60)" y="3">28 May</text><text transform="translate(627.5,550)rotate(-60)" y="3">29 May</text><text transform="translate(634.1,550)rotate(-60)" y="3">30 May</text><text transform="translate(640.7,550)rotate(-60)" y="3">31 May</text><text transform="translate(647.3,550)rotate(-60)" y="3">1 June</text><text transform="translate(653.9,550)rotate(-60)" y="3">2 June</text><text transform="translate(660.5,550)rotate(-60)" y="3">3 June</text><text transform="translate(667.2,550)rotate(-60)" y="3">4 June</text><text transform="translate(673.8,550)rotate(-60)" y="3">5 June</text>
<text transform="translate(680.4,550)rotate(-60)" y="3">6 June</text><text transform="translate(687,550)rotate(-60)" y="3">7 June</text><text transform="translate(693.6,550)rotate(-60)" y="3">8 June</text><text transform="translate(700.2,550)rotate(-60)" y="3">9 June</text><text transform="translate(706.8,550)rotate(-60)" y="3">10 June</text><text transform="translate(713.4,550)rotate(-60)" y="3">11 June</text><text transform="translate(720.1,550)rotate(-60)" y="3">12 June</text><text transform="translate(726.7,550)rotate(-60)" y="3">13 June</text><text transform="translate(733.3,550)rotate(-60)" y="3">14 June</text><text transform="translate(739.9,550)rotate(-60)" y="3">15 June</text>
<text transform="translate(746.5,550)rotate(-60)" y="3">16 June</text><text transform="translate(753.1,550)rotate(-60)" y="3">17 June</text><text transform="translate(759.7,550)rotate(-60)" y="3">18 June</text><text transform="translate(766.3,550)rotate(-60)" y="3">19 June</text><text transform="translate(772.9,550)rotate(-60)" y="3">20 June</text><text transform="translate(779.6,550)rotate(-60)" y="3">21 June</text><text transform="translate(786.2,550)rotate(-60)" y="3">22 June</text><text transform="translate(792.8,550)rotate(-60)" y="3">23 June</text><text transform="translate(799.4,550)rotate(-60)" y="3">24 June</text><text transform="translate(806,550)rotate(-60)" y="3">25 June</text>
<text transform="translate(812.6,550)rotate(-60)" y="3">26 June</text><text transform="translate(819.2,550)rotate(-60)" y="3">27 June</text><text transform="translate(825.8,550)rotate(-60)" y="3">28 June</text>
</g>

<!-- bottom legend -->
<circle cx="856.5" cy="360" r="4.5" fill="#f7920f"/>
<text class="t" x="865" y="363.5" font-size="10" fill="#555">Active cases in hospital (non-ICU)</text>
<rect x="852.3" y="369.8" width="8.4" height="8.4" rx="2" fill="#7a2c36"/>
<text class="t" x="865" y="377.5" font-size="10" fill="#555">Active cases in hospital (ICU)</text>
</svg>
</body></html>
